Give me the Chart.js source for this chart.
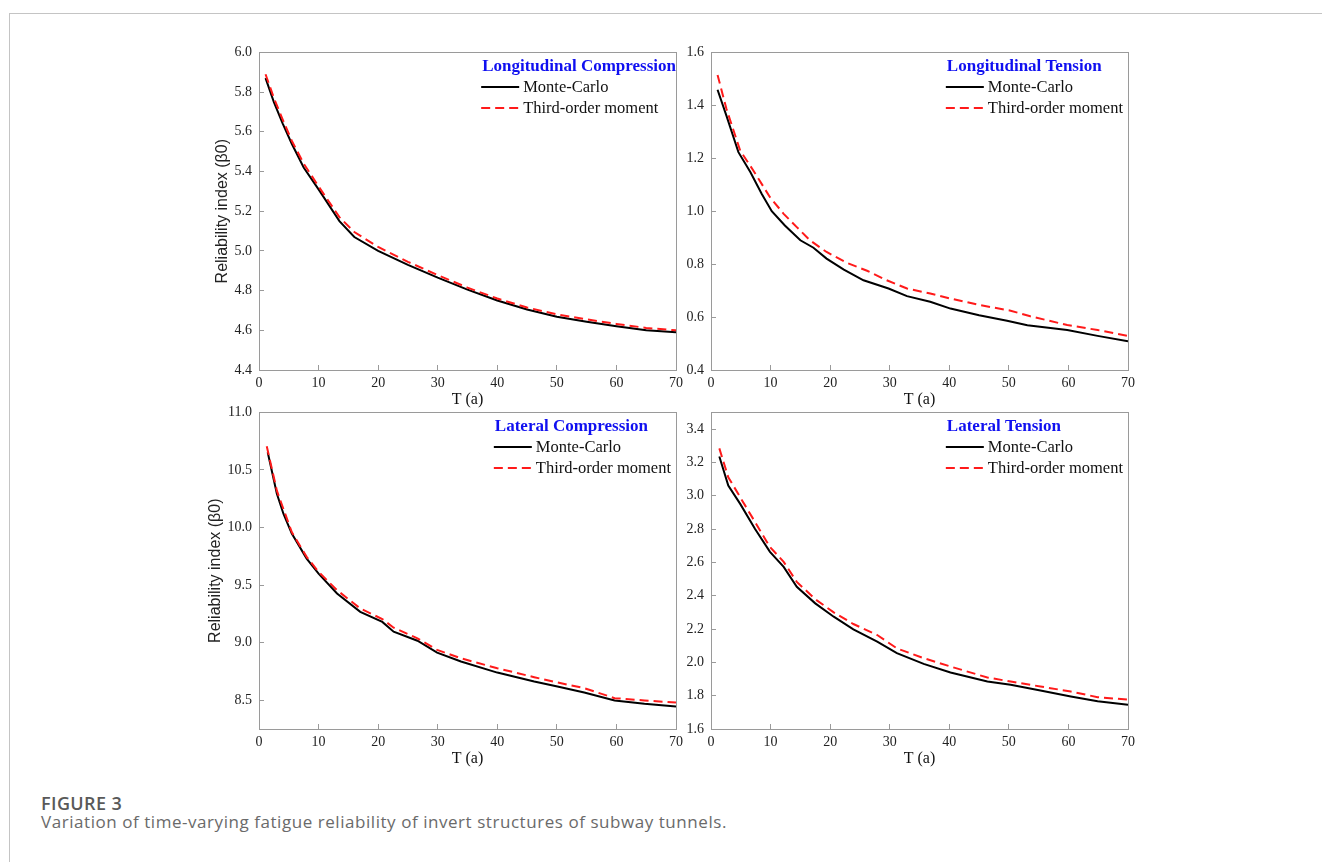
<!DOCTYPE html>
<html>
<head>
<meta charset="utf-8">
<script src="https://cdn.jsdelivr.net/npm/chart.js@4"></script>
<style>
    body { margin: 0; background: #fff; width: 1322px; height: 862px; position: relative; overflow: hidden; }
    .card { position: absolute; left: 9px; top: 13px; right: -2px; bottom: -2px; border-left: 1px solid #c4c4c4; border-top: 1px solid #c4c4c4; }
    canvas { position: absolute; }
    #fig-label { position: absolute; left: 41px; top: 791px; font: 600 18px/24px "Open Sans", sans-serif; letter-spacing: 0.4px; color: #595959; }
    #fig-caption { position: absolute; left: 41px; top: 811px; font: 400 17px/22px "Open Sans", sans-serif; letter-spacing: 0.55px; color: #6a6a6a; white-space: nowrap; }
</style>
</head>
<body>
<div class="card"></div>
<canvas id="c-tl" width="493" height="378" style="left:200px;top:32px"></canvas>
<canvas id="c-tr" width="475" height="378" style="left:670px;top:32px"></canvas>
<canvas id="c-bl" width="493" height="377" style="left:200px;top:392px"></canvas>
<canvas id="c-br" width="475" height="377" style="left:670px;top:392px"></canvas>
<div id="fig-label">FIGURE 3</div>
<div id="fig-caption">Variation of time-varying fatigue reliability of invert structures of subway tunnels.</div>

<script>
// series labels
let seriesNames = ['Monte-Carlo', 'Third-order moment'];
let xTicks = [0, 10, 20, 30, 40, 50, 60, 70];

// Longitudinal Compression
let lcTitle = 'Longitudinal Compression';
let lcT = [1.1, 2.5, 4, 5.5, 7.5, 10, 13.5, 16, 20, 25, 30, 35, 40, 45, 50, 55, 60, 65, 70];
let lcMonteCarlo = [5.87, 5.75, 5.64, 5.54, 5.42, 5.31, 5.15, 5.07, 5.0, 4.93, 4.865, 4.805, 4.75, 4.705, 4.668, 4.643, 4.62, 4.60, 4.59];
let lcThirdOrder = [5.89, 5.77, 5.66, 5.555, 5.44, 5.325, 5.17, 5.095, 5.02, 4.945, 4.878, 4.815, 4.76, 4.715, 4.68, 4.655, 4.632, 4.612, 4.60];
let lcTicks = [4.4, 4.6, 4.8, 5.0, 5.2, 5.4, 5.6, 5.8, 6.0];

// Longitudinal Tension
let ltTitle = 'Longitudinal Tension';
let ltMcT = [1.1, 2.6, 4.6, 6.6, 8.5, 10.2, 12.4, 15, 17.2, 19.4, 22.3, 25.6, 29.8, 32.9, 36.8, 40.2, 45, 49.7, 53.1, 59.8, 64.9, 70];
let ltMonteCarlo = [1.459, 1.36, 1.223, 1.148, 1.066, 1.0, 0.946, 0.89, 0.862, 0.821, 0.779, 0.739, 0.708, 0.679, 0.658, 0.632, 0.607, 0.586, 0.569, 0.551, 0.529, 0.509];
let ltToT = [1.1, 2.6, 4.9, 7.1, 9.9, 12.2, 14.4, 16.6, 19.4, 22.8, 26.2, 29.5, 32.9, 36.8, 40.2, 45.2, 50.3, 53.6, 59.8, 64.9, 70];
let ltThirdOrder = [1.515, 1.386, 1.229, 1.154, 1.053, 0.99, 0.94, 0.89, 0.846, 0.805, 0.775, 0.739, 0.708, 0.689, 0.670, 0.645, 0.624, 0.603, 0.570, 0.551, 0.529];
let ltTicks = [0.4, 0.6, 0.8, 1.0, 1.2, 1.4, 1.6];

// Lateral Compression
let acTitle = 'Lateral Compression';
let acMcT = [1.46, 3.0, 4.1, 5.5, 8.0, 10, 13.1, 17, 20.7, 22.6, 26.6, 29.9, 33.9, 40, 46.2, 50.1, 54.6, 59.7, 64.7, 70];
let acMonteCarlo = [10.654, 10.293, 10.12, 9.947, 9.73, 9.60, 9.427, 9.268, 9.18, 9.095, 9.017, 8.913, 8.836, 8.74, 8.662, 8.619, 8.567, 8.498, 8.469, 8.446];
let acToT = [1.3, 3.0, 5.5, 8.0, 10, 13.1, 17, 20.7, 22.6, 26.6, 29.9, 33.9, 40, 46.2, 50.1, 54.6, 59.7, 64.7, 70];
let acThirdOrder = [10.706, 10.32, 9.96, 9.745, 9.615, 9.456, 9.297, 9.205, 9.13, 9.038, 8.937, 8.864, 8.778, 8.70, 8.654, 8.605, 8.518, 8.498, 8.48];
let acTicks = [8.5, 9.0, 9.5, 10.0, 10.5, 11.0];

// Lateral Tension
let atTitle = 'Lateral Tension';
let atT = [1.4, 2.9, 4.9, 7.4, 9.9, 12.2, 14.4, 17.5, 20.6, 23.9, 27.9, 31.2, 35.7, 40.2, 46.4, 50.3, 55.3, 60.4, 64.9, 70];
let atMonteCarlo = [3.235, 3.061, 2.951, 2.80, 2.663, 2.573, 2.453, 2.354, 2.274, 2.198, 2.124, 2.055, 1.991, 1.939, 1.885, 1.865, 1.831, 1.795, 1.766, 1.746];
let atThirdOrder = [3.284, 3.111, 2.991, 2.842, 2.692, 2.603, 2.483, 2.379, 2.30, 2.23, 2.164, 2.084, 2.025, 1.975, 1.909, 1.885, 1.855, 1.825, 1.791, 1.776];
let atTicks = [1.6, 1.8, 2.0, 2.2, 2.4, 2.6, 2.8, 3.0, 3.2, 3.4];

const serif = '"Liberation Serif", "Times New Roman", serif';
const axisGray = '#9a9a9a';

function toPoints(xs, ys) {
    return ys.map((y, i) => ({ x: xs[i], y: y }));
}

// box around the plot area + legend with blue panel title
const panelDecor = {
    id: 'panelDecor',
    afterDraw(chart, args, opts) {
        let ctx = chart.ctx;
        let area = chart.chartArea;
        ctx.save();
        ctx.strokeStyle = axisGray;
        ctx.lineWidth = 1;
        ctx.strokeRect(Math.round(area.left) + 0.5, Math.round(area.top) + 0.5,
            Math.round(area.right - area.left), Math.round(area.bottom - area.top));

        ctx.font = 'bold 17px ' + serif;
        let titleW = ctx.measureText(opts.title).width;
        ctx.font = '16.5px ' + serif;
        let itemW = 0;
        chart.data.datasets.forEach(ds => {
            itemW = Math.max(itemW, ctx.measureText(ds.label).width);
        });
        itemW += 42;
        let left = area.right - Math.max(titleW + 1, itemW + 5);

        ctx.textBaseline = 'middle';
        ctx.textAlign = 'left';
        ctx.fillStyle = '#1010f0';
        ctx.font = 'bold 17px ' + serif;
        ctx.fillText(opts.title, left + 1, area.top + 14);

        ctx.font = '16.5px ' + serif;
        chart.data.datasets.forEach((ds, i) => {
            let y = area.top + 34.5 + i * 21;
            ctx.beginPath();
            ctx.strokeStyle = ds.borderColor;
            ctx.lineWidth = 2;
            ctx.setLineDash(ds.borderDash || []);
            ctx.moveTo(left, y);
            ctx.lineTo(left + 38, y);
            ctx.stroke();
            ctx.setLineDash([]);
            ctx.fillStyle = '#111';
            ctx.fillText(ds.label, left + 42, y + 1);
        });
        ctx.restore();
    }
};

function makePanel(id, title, mcT, mcVals, toT, toVals, yMin, yMax, yTicks, yWidth, yTitlePad) {
    let ctx = document.getElementById(id).getContext('2d');
    return new Chart(ctx, {
        type: 'line',
        data: {
            datasets: [{
                label: seriesNames[0],
                data: toPoints(mcT, mcVals),
                borderColor: '#000000',
                borderWidth: 2,
                pointRadius: 0,
                tension: 0,
                order: 2
            }, {
                label: seriesNames[1],
                data: toPoints(toT, toVals),
                borderColor: '#ff1a1a',
                borderWidth: 2,
                borderDash: [9, 5],
                pointRadius: 0,
                tension: 0,
                order: 1
            }]
        },
        options: {
            responsive: false,
            animation: false,
            devicePixelRatio: 1,
            layout: { padding: { top: 10, right: 0, left: 0, bottom: 0 } },
            plugins: {
                legend: { display: false },
                tooltip: { enabled: false },
                panelDecor: { title: title }
            },
            scales: {
                x: {
                    type: 'linear',
                    min: 0,
                    max: 70,
                    afterBuildTicks: scale => { scale.ticks = xTicks.map(v => ({ value: v })); },
                    afterFit: scale => { scale.height = 40; },
                    grid: { drawOnChartArea: false, tickLength: -5, color: axisGray },
                    border: { color: axisGray },
                    ticks: { padding: 10, color: '#222', font: { family: serif, size: 14 }, maxRotation: 0 },
                    title: { display: true, text: 'T (a)', color: '#111', padding: { top: 0, bottom: 1 }, font: { family: serif, size: 16 } }
                },
                y: {
                    min: yMin,
                    max: yMax,
                    afterBuildTicks: scale => { scale.ticks = yTicks.map(v => ({ value: v })); },
                    afterFit: scale => { scale.width = yWidth; },
                    grid: { drawOnChartArea: false, tickLength: -5, color: axisGray },
                    border: { color: axisGray },
                    ticks: {
                        padding: 12,
                        color: '#222',
                        font: { family: serif, size: 14 },
                        callback: v => v.toFixed(1)
                    },
                    title: {
                        display: yTitlePad !== null,
                        text: 'Reliability index (β0)',
                        color: '#222',
                        padding: { top: yTitlePad || 0, bottom: 0 },
                        font: { family: '"Liberation Sans", Arial, sans-serif', size: 16 }
                    }
                }
            }
        },
        plugins: [panelDecor]
    });
}

makePanel('c-tl', lcTitle, lcT, lcMonteCarlo, lcT, lcThirdOrder, 4.4, 6.0, lcTicks, 59, 13.4);
makePanel('c-tr', ltTitle, ltMcT, ltMonteCarlo, ltToT, ltThirdOrder, 0.4, 1.6, ltTicks, 41, null);
makePanel('c-bl', acTitle, acMcT, acMonteCarlo, acToT, acThirdOrder, 8.25, 11.0, acTicks, 59, 6.4);
makePanel('c-br', atTitle, atT, atMonteCarlo, atT, atThirdOrder, 1.6, 3.5, atTicks, 41, null);
</script>
</body>
</html>
